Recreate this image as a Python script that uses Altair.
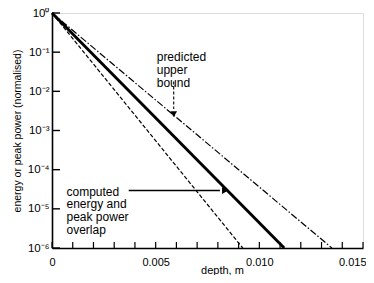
import altair as alt
import pandas as pd

# ---- data ----
series_names = ["upper", "computed", "lower"]
start_depth = [0.0, 0.0, 0.0]
end_depth = [0.0135, 0.0112, 0.0092]
start_value = [1.0, 1.0, 1.0]
end_value = [1e-6, 1e-6, 1e-6]

x_tick_vals = [i / 1000 for i in range(0, 16)]
y_tick_vals = [1e-6, 1e-5, 1e-4, 1e-3, 1e-2, 1e-1, 1.0]
x_label_vals = [0.0, 0.005, 0.010, 0.015]

# annotations
upper_text = "predicted\nupper\nbound"
upper_text_pos = (0.00505, 10 ** -1.12)
upper_arrow = (0.00587, 10 ** -1.75, 10 ** -2.45, 10 ** -2.58)  # x, y_start, y_end, head
computed_text = "computed\nenergy and\npeak power\noverlap"
computed_text_pos = (0.0007, 10 ** -4.56)
computed_arrow = (10 ** -4.53, 0.0037, 0.0081, 0.00835)  # y, x_start, x_end, head

FONT = "Liberation Sans"
W, H = 311, 235

rows = []
for n, sd, ed, sv, ev in zip(series_names, start_depth, end_depth, start_value, end_value):
    rows.append({"series": n, "depth": sd, "value": sv})
    rows.append({"series": n, "depth": ed, "value": ev})
df = pd.DataFrame(rows)

xs = alt.Scale(domain=[0, 0.015], nice=False, zero=False)
ys = alt.Scale(type="log", domain=[1e-6, 1], nice=False)

sup = "['10\u2070','10\u207b\u00b9','10\u207b\u00b2','10\u207b\u00b3','10\u207b\u2074','10\u207b\u2075','10\u207b\u2076'][-round(log(datum.value)/LN10)]"

xaxis = alt.Axis(values=x_label_vals, labelExpr="datum.value == 0 ? '0' : format(datum.value, '.3f')",
                 ticks=False, grid=False, labelFont=FONT, labelFontSize=11, labelColor="black",
                 labelPadding=8, labelFlush=True, labelFlushOffset=3, labelOverlap=False,
                 domainColor="black", domainWidth=1.6,
                 title="depth, m", titleFont=FONT, titleFontSize=11, titleFontWeight="normal",
                 titleColor="black", titleX=170, titleY=27, titleAnchor="start", titleAlign="center",
                 titleBaseline="bottom")
yaxis = alt.Axis(values=y_tick_vals, labelExpr=sup, ticks=False, grid=False,
                 labelFont=FONT, labelFontSize=11.5, labelColor="black", labelPadding=3,
                 labelFlush=False, labelOverlap=False,
                 domainColor="black", domainWidth=1.6,
                 title="energy or peak power (normalised)", titleFont=FONT, titleFontSize=10.5,
                 titleFontWeight="normal", titleColor="black", titlePadding=5)

base = alt.Chart(df)

def line(name, width, dash):
    enc = dict(x=alt.X("depth:Q", scale=xs, axis=xaxis), y=alt.Y("value:Q", scale=ys, axis=yaxis))
    m = base.transform_filter(alt.datum.series == name)
    if dash:
        return m.mark_line(color="black", strokeWidth=width, strokeDash=dash).encode(**enc)
    return m.mark_line(color="black", strokeWidth=width).encode(**enc)

l_upper = line("upper", 1.2, [7, 2, 1.5, 2])
l_comp = line("computed", 2.9, None)
l_lower = line("lower", 1.2, [4, 2])

xt = alt.Chart(pd.DataFrame({"x": x_tick_vals})).mark_rule(color="black", strokeWidth=1.2).encode(
    x=alt.X("x:Q", scale=xs), y=alt.value(H), y2=alt.value(H - 6))
yt = alt.Chart(pd.DataFrame({"y": y_tick_vals})).mark_rule(color="black", strokeWidth=1.4).encode(
    y=alt.Y("y:Q", scale=ys), x=alt.value(0), x2=alt.value(8))

t1 = alt.Chart(pd.DataFrame({"x": [upper_text_pos[0]], "y": [upper_text_pos[1]], "t": [upper_text]})).mark_text(
    align="left", baseline="middle", font=FONT, fontSize=12, lineBreak="\n", lineHeight=13.3, color="black").encode(
    x=alt.X("x:Q", scale=xs), y=alt.Y("y:Q", scale=ys), text="t:N")
t2 = alt.Chart(pd.DataFrame({"x": [computed_text_pos[0]], "y": [computed_text_pos[1]], "t": [computed_text]})).mark_text(
    align="left", baseline="middle", font=FONT, fontSize=12, lineBreak="\n", lineHeight=12.7, color="black").encode(
    x=alt.X("x:Q", scale=xs), y=alt.Y("y:Q", scale=ys), text="t:N")

a1 = alt.Chart(pd.DataFrame({"x": [upper_arrow[0]], "y": [upper_arrow[1]], "y2": [upper_arrow[2]]})).mark_rule(
    color="black", strokeWidth=1.1, strokeDash=[3, 2]).encode(
    x=alt.X("x:Q", scale=xs), y=alt.Y("y:Q", scale=ys), y2="y2:Q")
h1 = alt.Chart(pd.DataFrame({"x": [upper_arrow[0]], "y": [upper_arrow[3]]})).mark_point(
    shape="triangle-down", filled=True, color="black", size=45, opacity=1).encode(
    x=alt.X("x:Q", scale=xs), y=alt.Y("y:Q", scale=ys))
a2 = alt.Chart(pd.DataFrame({"y": [computed_arrow[0]], "x": [computed_arrow[1]], "x2": [computed_arrow[2]]})).mark_rule(
    color="black", strokeWidth=1.6).encode(
    x=alt.X("x:Q", scale=xs), x2="x2:Q", y=alt.Y("y:Q", scale=ys))
h2 = alt.Chart(pd.DataFrame({"x": [computed_arrow[3]], "y": [computed_arrow[0]]})).mark_point(
    shape="triangle-right", filled=True, color="black", size=50, opacity=1).encode(
    x=alt.X("x:Q", scale=xs), y=alt.Y("y:Q", scale=ys))

chart = alt.layer(l_upper, l_comp, l_lower, xt, yt, t1, t2, a1, h1, a2, h2).properties(
    width=W, height=H, autosize=alt.AutoSizeParams(type="none"),
    padding={"left": 44, "top": 5, "right": 3, "bottom": 27}
).configure_view(stroke=None).configure(background="white")

chart.save("out.html", embed_options={"renderer": "svg", "actions": False})
